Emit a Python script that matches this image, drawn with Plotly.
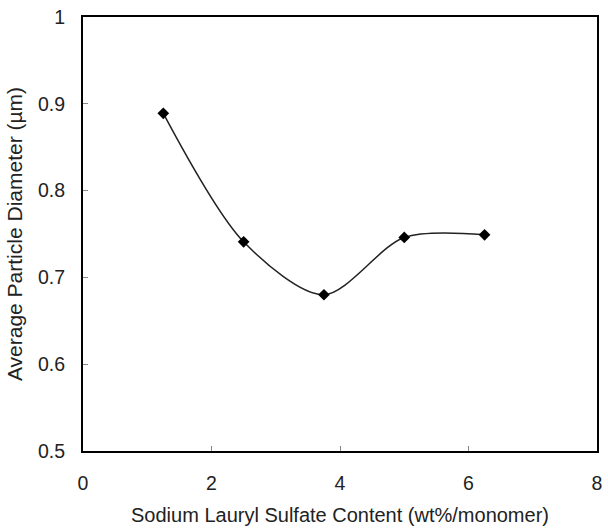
import plotly.graph_objects as go

# Surfactant content (wt% on monomer) and measured average particle diameter (µm)
sls_content = [1.25, 2.5, 3.75, 5.0, 6.25]
particle_diameter = [0.889, 0.741, 0.680, 0.746, 0.749]

x_ticks = [0, 2, 4, 6, 8]
y_ticks = [0.5, 0.6, 0.7, 0.8, 0.9, 1.0]
y_tick_labels = ["0.5", "0.6", "0.7", "0.8", "0.9", "1"]

font_family = "Liberation Sans, Arial, sans-serif"
text_color = "#222222"

fig = go.Figure()
fig.add_trace(go.Scatter(
    x=sls_content,
    y=particle_diameter,
    mode="lines+markers",
    line=dict(color="#222222", width=1.5, shape="spline", smoothing=0.85),
    marker=dict(symbol="diamond", size=9, color="black"),
    showlegend=False,
))

axis_common = dict(
    showline=True,
    linecolor="black",
    linewidth=2,
    mirror=True,
    showgrid=False,
    zeroline=False,
    ticks="inside",
    ticklen=5,
    tickwidth=1,
    tickcolor="#888888",
    tickfont=dict(family=font_family, size=19.5, color=text_color),
)

fig.update_xaxes(
    range=[0, 8],
    tickvals=x_ticks,
    title=dict(text="Sodium Lauryl Sulfate Content (wt%/monomer)",
               font=dict(family=font_family, size=20, color=text_color), standoff=15),
    ticklabelstandoff=14,
    **axis_common,
)
fig.update_yaxes(
    range=[0.5, 1.0],
    tickvals=y_ticks,
    ticktext=y_tick_labels,
    title=dict(text="Average Particle Diameter (µm)",
               font=dict(family=font_family, size=21, color=text_color), standoff=10),
    ticklabelstandoff=12,
    **axis_common,
)

fig.update_layout(
    width=608,
    height=532,
    margin=dict(l=83, r=6, t=15, b=81),
    paper_bgcolor="white",
    plot_bgcolor="white",
)

fig.write_html("out.html")
